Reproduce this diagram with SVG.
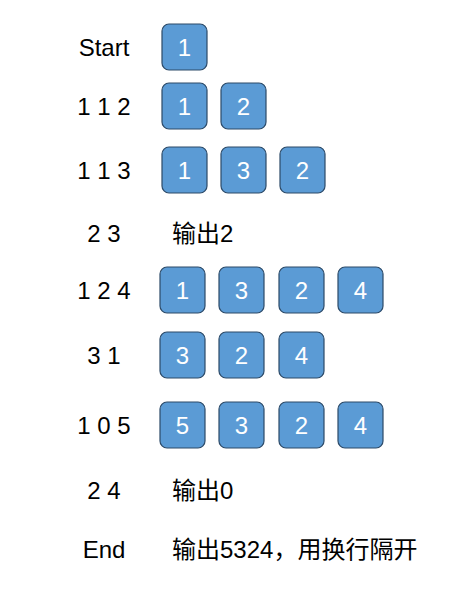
<svg xmlns="http://www.w3.org/2000/svg" width="473" height="592" viewBox="0 0 473 592">
<style>
.bg{fill:#ffffff}
.box{fill:#5b9bd5;stroke:#2c4a68;stroke-width:1.2}
.num{font-family:"Liberation Sans",Arial,sans-serif;font-size:24px;fill:#ffffff;text-anchor:middle;dominant-baseline:central}
.lbl{font-family:"Liberation Sans",Arial,sans-serif;font-size:24px;fill:#000000;text-anchor:middle;dominant-baseline:central}
.out{font-family:"Liberation Sans","Noto Sans CJK SC",sans-serif;font-size:24px;fill:#000000;dominant-baseline:central}
</style>
<defs>
<rect id="b" class="box" width="45" height="46" rx="7" ry="7"/>
</defs>
<rect class="bg" width="473" height="592"/>
<g id="connectors"></g>
<g id="row-start">
<text class="lbl" x="104" y="47">Start</text>
<g id="r1b1"><use href="#b" x="162" y="24"/><text class="num" x="184.5" y="47">1</text></g>
</g>
<g id="row-112">
<text class="lbl" x="104" y="106">1 1 2</text>
<g id="r2b1"><use href="#b" x="162" y="83"/><text class="num" x="184.5" y="106">1</text></g>
<g id="r2b2"><use href="#b" x="221" y="83"/><text class="num" x="243.5" y="106">2</text></g>
</g>
<g id="row-113">
<text class="lbl" x="104" y="170">1 1 3</text>
<g id="r3b1"><use href="#b" x="162" y="147"/><text class="num" x="184.5" y="170">1</text></g>
<g id="r3b2"><use href="#b" x="221" y="147"/><text class="num" x="243.5" y="170">3</text></g>
<g id="r3b3"><use href="#b" x="280" y="147"/><text class="num" x="302.5" y="170">2</text></g>
</g>
<g id="row-23">
<text class="lbl" x="104" y="233">2 3</text>
<text class="out" x="172" y="233">输出2</text>
</g>
<g id="row-124">
<text class="lbl" x="104" y="290">1 2 4</text>
<g id="r5b1"><use href="#b" x="160" y="267"/><text class="num" x="182.5" y="290">1</text></g>
<g id="r5b2"><use href="#b" x="219" y="267"/><text class="num" x="241.5" y="290">3</text></g>
<g id="r5b3"><use href="#b" x="279" y="267"/><text class="num" x="301.5" y="290">2</text></g>
<g id="r5b4"><use href="#b" x="338" y="267"/><text class="num" x="360.5" y="290">4</text></g>
</g>
<g id="row-31">
<text class="lbl" x="104" y="355">3 1</text>
<g id="r6b1"><use href="#b" x="160" y="332"/><text class="num" x="182.5" y="355">3</text></g>
<g id="r6b2"><use href="#b" x="219" y="332"/><text class="num" x="241.5" y="355">2</text></g>
<g id="r6b3"><use href="#b" x="279" y="332"/><text class="num" x="301.5" y="355">4</text></g>
</g>
<g id="row-105">
<text class="lbl" x="104" y="425">1 0 5</text>
<g id="r7b1"><use href="#b" x="160" y="402"/><text class="num" x="182.5" y="425">5</text></g>
<g id="r7b2"><use href="#b" x="219" y="402"/><text class="num" x="241.5" y="425">3</text></g>
<g id="r7b3"><use href="#b" x="279" y="402"/><text class="num" x="301.5" y="425">2</text></g>
<g id="r7b4"><use href="#b" x="338" y="402"/><text class="num" x="360.5" y="425">4</text></g>
</g>
<g id="row-24">
<text class="lbl" x="104" y="490">2 4</text>
<text class="out" x="172" y="490">输出0</text>
</g>
<g id="row-end">
<text class="lbl" x="104" y="549">End</text>
<text class="out" x="172" y="549">输出5324，用换行隔开</text>
</g>
</svg>
